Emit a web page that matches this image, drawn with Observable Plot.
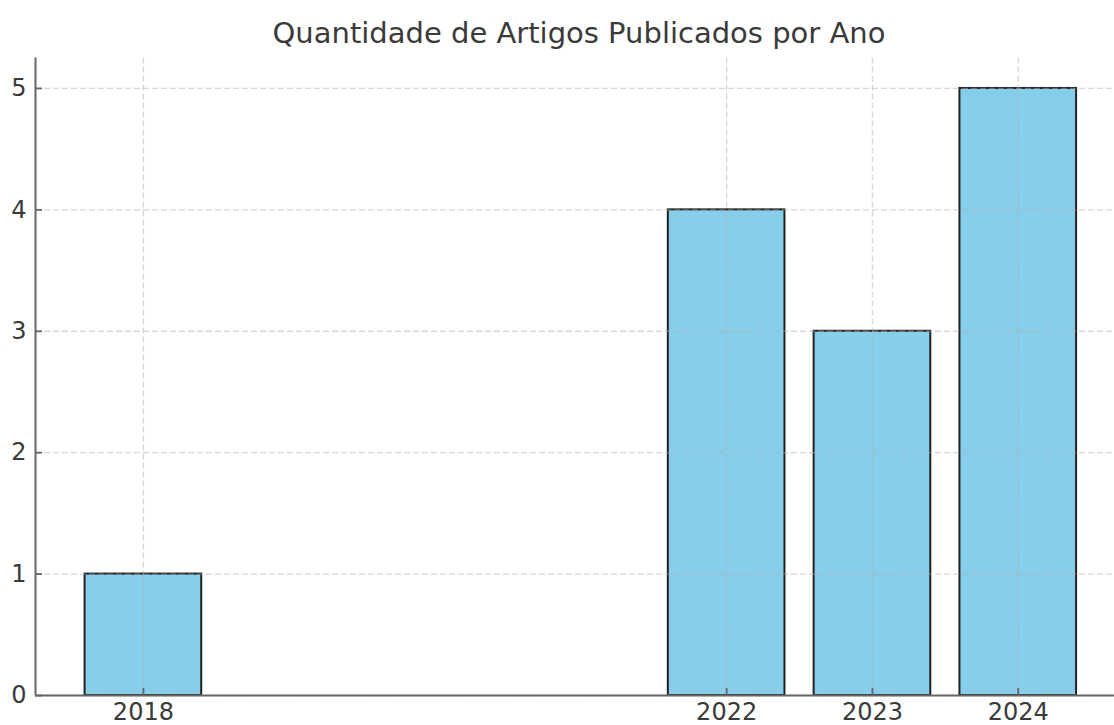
<!DOCTYPE html>
<html>
<head>
<meta charset="utf-8">
<script src="https://cdn.jsdelivr.net/npm/d3@7"></script>
<script src="https://cdn.jsdelivr.net/npm/@observablehq/plot@0.6"></script>
<style>
  html, body { margin: 0; padding: 0; background: #fff; overflow: hidden; }
  #wrap { position: relative; width: 1114px; height: 725px; }
  #title { position: absolute; left: 579px; top: 16px; transform: translateX(-50%);
           font-family: "DejaVu Sans", sans-serif; font-size: 29px; color: #3a3a3a; white-space: nowrap; line-height: 1.2; }
  svg { font-family: "DejaVu Sans", sans-serif; }
</style>
</head>
<body>
<div id="wrap">
  <div id="title">Quantidade de Artigos Publicados por Ano</div>
  <div id="chart"></div>
</div>
<script>
const years = [2018, 2022, 2023, 2024];
const counts = [1, 4, 3, 5];
const yTicks = [0, 1, 2, 3, 4, 5];
const xDomain = [2017.26, 2024.66];
const yDomain = [0, 5.25];

const data = years.map((year, i) => ({year, count: counts[i]}));

const W = 1114, H = 725, mL = 35, mR = 0, mT = 57.6, mB = 30;
const plotH = H - mT - mB, plotW = W - mL - mR;

const chart = Plot.plot({
  width: W,
  height: H,
  marginLeft: mL,
  marginRight: mR,
  marginTop: mT,
  marginBottom: mB,
  style: {fontFamily: "DejaVu Sans, sans-serif", background: "#fff", color: "#333"},
  x: {domain: xDomain, axis: null},
  y: {domain: yDomain, axis: null},
  marks: [
    Plot.rectY(data, {x1: d => d.year - 0.4, x2: d => d.year + 0.4, y: "count",
      fill: "#87CEEB", stroke: "#222", strokeWidth: 2}),
    Plot.gridY(yTicks, {stroke: "#b0b0b0", strokeOpacity: 0.5, strokeDasharray: "6,3", strokeWidth: 1.3}),
    Plot.gridX(years, {stroke: "#b0b0b0", strokeOpacity: 0.5, strokeDasharray: "6,3", strokeWidth: 1.3}),
    Plot.ruleX([xDomain[0]], {stroke: "#666", strokeWidth: 2}),
    Plot.ruleY([0], {stroke: "#666", strokeWidth: 2}),
    Plot.tickY(yTicks, {y: d => d, stroke: "#666", strokeWidth: 1.8, insetRight: plotW - 7}),
    Plot.tickX(years, {x: d => d, stroke: "#666", strokeWidth: 1.8, insetTop: plotH - 7}),
    Plot.axisY(yTicks, {tickSize: 0, tickPadding: 9, fontSize: 24, fill: "#3a3a3a", label: null, tickFormat: d => String(d)}),
    Plot.axisX(years, {tickSize: 0, tickPadding: 7, fontSize: 24, fill: "#3a3a3a", label: null, tickFormat: d => String(d)})
  ]
});
document.getElementById("chart").appendChild(chart);
</script>
</body>
</html>
